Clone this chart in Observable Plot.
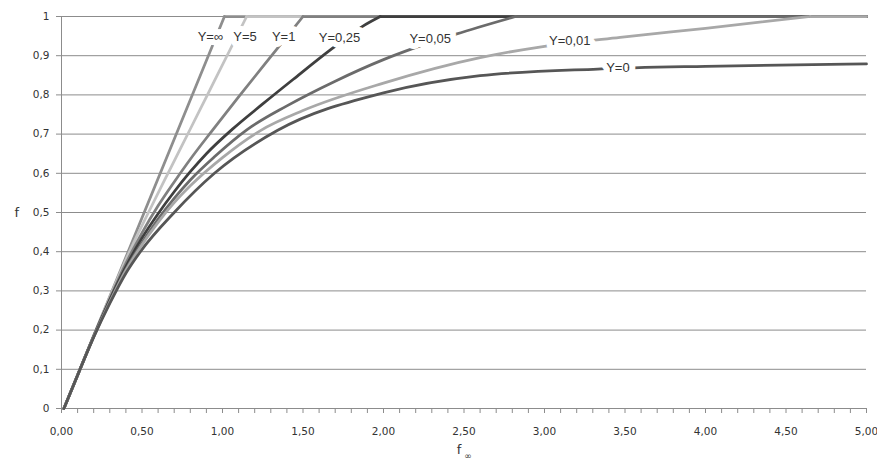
<!DOCTYPE html>
<html><head><meta charset="utf-8">
<script src="https://cdn.jsdelivr.net/npm/d3@7"></script>
<script src="https://cdn.jsdelivr.net/npm/@observablehq/plot@0.6"></script>
<style>body{margin:0;background:#fff}#chart{width:877px;height:462px}</style>
</head><body><div id="chart"></div>
<script>
// Series (parameter Y) and their colours
const seriesNames  = ["Y=∞", "Y=5", "Y=1", "Y=0,25", "Y=0,05", "Y=0,01", "Y=0"];
const seriesColors = ["#8e8e8e", "#c3c3c3", "#808080", "#3f3f3f", "#6b6b6b", "#a8a8a8", "#565656"];

// Values: f∞ (x) and f (y)
const xYinf = [0.015, 1.012, 5];
const yYinf = [0, 1, 1];
const xY5   = [0.015, 0.1, 0.2, 0.3, 0.4, 0.54, 0.67, 0.8, 0.905, 1.06, 1.15, 5];
const yY5   = [0, 0.085, 0.186, 0.284, 0.38, 0.5, 0.607, 0.713, 0.799, 0.926, 1, 1];
const xY1   = [0.015, 0.1, 0.2, 0.3, 0.4, 0.5, 0.6, 0.7, 0.8, 0.936, 1.1, 1.34, 1.5, 5];
const yY1   = [0, 0.085, 0.185, 0.28, 0.37, 0.448, 0.517, 0.578, 0.636, 0.709, 0.795, 0.918, 1, 1];
const xY025 = [0.015, 0.1, 0.2, 0.3, 0.4, 0.5, 0.6, 0.7, 0.8, 0.9, 1.06, 1.25, 1.44, 1.68, 1.87, 1.98, 5];
const yY025 = [0, 0.085, 0.184, 0.277, 0.362, 0.435, 0.497, 0.553, 0.604, 0.65, 0.712, 0.777, 0.84, 0.918, 0.975, 1, 1];
const xY005 = [0.015, 0.1, 0.2, 0.3, 0.4, 0.5, 0.6, 0.7, 0.8, 0.95, 1.155, 1.4, 1.7, 2.0, 2.18, 2.45, 2.82, 5];
const yY005 = [0, 0.085, 0.183, 0.273, 0.355, 0.423, 0.483, 0.536, 0.583, 0.642, 0.712, 0.772, 0.835, 0.89, 0.918, 0.955, 1, 1];
const xY001 = [0.015, 0.1, 0.2, 0.3, 0.4, 0.5, 0.6, 0.7, 0.8, 1.0, 1.236, 1.5, 2.0, 2.6, 3.0, 3.47, 4.0, 4.65, 5];
const yY001 = [0, 0.085, 0.183, 0.271, 0.352, 0.418, 0.475, 0.525, 0.568, 0.64, 0.709, 0.76, 0.83, 0.895, 0.924, 0.947, 0.97, 1, 1];
const xY0   = [0.015, 0.1, 0.2, 0.3, 0.4, 0.49, 0.70, 0.95, 1.34, 2.0, 2.6, 3.33, 4.0, 5];
const yY0   = [0, 0.085, 0.182, 0.268, 0.345, 0.4, 0.5, 0.6, 0.709, 0.805, 0.849, 0.866, 0.873, 0.879];

const seriesX = [xYinf, xY5, xY1, xY025, xY005, xY001, xY0];
const seriesY = [yYinf, yY5, yY1, yY025, yY005, yY001, yY0];

// In-chart labels (anchor positions in data units)
const labelText = ["Y=∞", "Y=5", "Y=1", "Y=0,25", "Y=0,05", "Y=0,01", "Y=0"];
const labelX    = [0.925, 1.14, 1.38, 1.727, 2.29, 3.157, 3.456];
const labelY    = [0.949, 0.949, 0.949, 0.946, 0.944, 0.939, 0.87];

// Axis ticks
const yTicks      = [0, 0.1, 0.2, 0.3, 0.4, 0.5, 0.6, 0.7, 0.8, 0.9, 1];
const yTickLabels = ["0", "0,1", "0,2", "0,3", "0,4", "0,5", "0,6", "0,7", "0,8", "0,9", "1"];
const xTicks      = [0, 0.5, 1, 1.5, 2, 2.5, 3, 3.5, 4, 4.5, 5];
const xTickLabels = ["0,00", "0,50", "1,00", "1,50", "2,00", "2,50", "3,00", "3,50", "4,00", "4,50", "5,00"];
const xMinorTicks = d3.range(0, 51).map(i => i / 10);

// Build tables: rising part (smooth) and plateau part (straight)
const rising = [], plateau = [];
seriesNames.forEach((name, s) => {
  const xs = seriesX[s], ys = seriesY[s];
  const k = ys.indexOf(1);
  xs.forEach((x, i) => {
    if (k < 0 || i <= k) rising.push({series: name, x, y: ys[i]});
    if (k >= 0 && i >= k) plateau.push({series: name, x, y: ys[i]});
  });
});
const labels = labelText.map((t, i) => ({t, x: labelX[i], y: labelY[i]}));

const grid = "#8c8c8c";
const plot = Plot.plot({
  width: 877, height: 462,
  marginLeft: 61, marginRight: 11, marginTop: 16, marginBottom: 54,
  x: {domain: [0, 5]},
  y: {domain: [0, 1]},
  color: {domain: seriesNames, range: seriesColors},
  style: {fontFamily: "DejaVu Sans", fontSize: "10.5px", color: "#333", background: "white"},
  marks: [
    Plot.ruleY(yTicks.slice(1), {stroke: grid, strokeWidth: 1}),
    Plot.ruleX([0], {stroke: grid}),
    Plot.ruleY([0], {stroke: grid}),
    Plot.axisY(yTicks, {tickSize: 5, tickPadding: 7, stroke: grid, fill: "#333",
      tickFormat: (d, i) => yTickLabels[i], label: null}),
    Plot.axisX(xMinorTicks, {tickSize: 5, stroke: grid, tickFormat: () => "", label: null}),
    Plot.axisX(xTicks, {tickSize: 0, tickPadding: 19, fill: "#333",
      tickFormat: (d, i) => xTickLabels[i], label: null}),
    Plot.line(plateau, {x: "x", y: "y", z: "series", stroke: "series", strokeWidth: 2.75}),
    Plot.line(rising, {x: "x", y: "y", z: "series", stroke: "series", strokeWidth: 2.75, curve: "monotone-x"}),
    Plot.text(labels, {x: "x", y: "y", text: "t", fill: "#333", stroke: "white", strokeWidth: 12,
      strokeLinejoin: "round", fontFamily: "Liberation Sans", fontSize: 13}),
    Plot.text(["f"], {frameAnchor: "left", dx: -47, fill: "#333", fontSize: 13, fontFamily: "DejaVu Sans"}),
    Plot.text(["f"], {frameAnchor: "bottom", dx: -5, dy: 45, fill: "#333", fontSize: 13, fontFamily: "DejaVu Sans"}),
    Plot.text(["∞"], {frameAnchor: "bottom", dx: 4, dy: 50, fill: "#333", fontSize: 9, fontFamily: "DejaVu Sans"})
  ]
});
document.getElementById("chart").append(plot);
</script>
</body></html>
